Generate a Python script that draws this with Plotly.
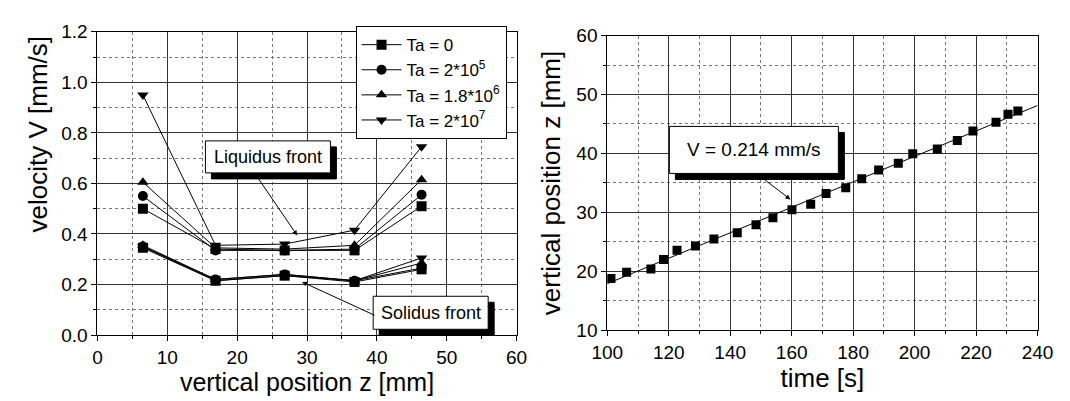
import numpy as np
import plotly.graph_objects as go

# ---------------- data: left panel ----------------
z_pos = [6.5, 16.9, 26.8, 36.8, 46.4]
ta_labels = ["Ta = 0", "Ta = 2*10<sup>5</sup>", "Ta = 1.8*10<sup>6</sup>", "Ta = 2*10<sup>7</sup>"]
ta_symbols = ["square", "circle", "triangle-up", "triangle-down"]

liq_ta0 = [0.50, 0.340, 0.335, 0.335, 0.51]
liq_ta2e5 = [0.55, 0.335, 0.335, 0.340, 0.555]
liq_ta18e6 = [0.605, 0.345, 0.340, 0.355, 0.615]
liq_ta2e7 = [0.95, 0.355, 0.360, 0.415, 0.745]

sol_ta0 = [0.345, 0.215, 0.235, 0.210, 0.260]
sol_ta2e5 = [0.350, 0.220, 0.240, 0.215, 0.265]
sol_ta18e6 = [0.355, 0.220, 0.240, 0.215, 0.285]
sol_ta2e7 = [0.350, 0.215, 0.235, 0.215, 0.305]

liquidus = [liq_ta0, liq_ta2e5, liq_ta18e6, liq_ta2e7]
solidus = [sol_ta0, sol_ta2e5, sol_ta18e6, sol_ta2e7]

# ---------------- data: right panel ----------------
time_s = [101.2, 106.3, 114.2, 118.3, 122.7, 128.7, 134.7, 142.3, 148.4, 153.9,
          160.1, 166.2, 171.2, 177.6, 182.8, 188.3, 194.7, 199.4, 207.4, 213.9,
          219.0, 226.5, 230.4, 233.6]
zpos_mm = [18.8, 19.85, 20.4, 22.0, 23.6, 24.3, 25.5, 26.55, 27.9, 29.1,
           30.45, 31.4, 33.2, 34.2, 35.7, 37.2, 38.35, 39.95, 40.75, 42.2,
           43.8, 45.3, 46.65, 47.2]
fit_t = [100, 240]

FONT = "Liberation Sans, Arial, Helvetica, sans-serif"
W, H = 1070, 401

fig = go.Figure()

for i in range(4):
    fig.add_trace(go.Scatter(
        x=z_pos, y=liquidus[i], mode="lines+markers", name=ta_labels[i],
        legendgroup=str(i), line=dict(color="black", width=1),
        marker=dict(symbol=ta_symbols[i], size=10, color="black"),
        xaxis="x", yaxis="y"))
    fig.add_trace(go.Scatter(
        x=z_pos, y=solidus[i], mode="lines+markers", name=ta_labels[i],
        legendgroup=str(i), showlegend=False, line=dict(color="black", width=1),
        marker=dict(symbol=ta_symbols[i], size=10, color="black"),
        xaxis="x", yaxis="y"))

slope, intercept = np.polyfit(time_s, zpos_mm, 1)
fit_z = [slope * t + intercept for t in fit_t]
fig.add_trace(go.Scatter(x=fit_t, y=fit_z, mode="lines", showlegend=False,
                         line=dict(color="black", width=1), xaxis="x2", yaxis="y2"))
fig.add_trace(go.Scatter(x=time_s, y=zpos_mm, mode="markers", showlegend=False,
                         marker=dict(symbol="square", size=9, color="black"),
                         xaxis="x2", yaxis="y2"))


def axis(rng, dtick, mdtick, domain, anchor, title, fmt=None, standoff=8, tsize=25):
    d = dict(range=rng, dtick=dtick, domain=domain, anchor=anchor,
             showline=True, linecolor="black", linewidth=1, mirror=True,
             ticks="outside", ticklen=5, tickcolor="black", tickwidth=1,
             showgrid=True, gridcolor="#333", gridwidth=1, zeroline=False,
             tickfont=dict(family=FONT, size=19, color="black"),
             title=dict(text=title, font=dict(family=FONT, size=tsize, color="black"),
                        standoff=standoff),
             minor=dict(dtick=mdtick, showgrid=True, gridcolor="#777", griddash="dot",
                        gridwidth=1, ticks="outside", ticklen=3, tickcolor="black"))
    if fmt:
        d["tickformat"] = fmt
    return d


fig.update_layout(
    width=W, height=H, margin=dict(l=0, r=0, t=0, b=0),
    paper_bgcolor="white", plot_bgcolor="white",
    font=dict(family=FONT, color="black"),
    xaxis=axis([0, 60], 10, 5, [84 / W, 516 / W], "y", "vertical position z [mm]", standoff=2),
    yaxis=axis([0, 1.2], 0.2, 0.1, [1 - 343 / H, 1 - 23 / H], "x", "", fmt=".1f"),
    xaxis2=axis([100, 240], 20, 10, [609.5 / W, 1053 / W], "y2", "time [s]", standoff=2, tsize=26),
    yaxis2=axis([10, 60], 10, 5, [1 - 338 / H, 1 - 27 / H], "x2", "vertical position z [mm]",
                standoff=8, tsize=26),
    legend=dict(x=350 / W, y=1 - 17 / H, xanchor="left", yanchor="top",
                bgcolor="white", bordercolor="black", borderwidth=1,
                font=dict(family=FONT, size=17, color="black"),
                tracegroupgap=0, itemwidth=40),
)


def boxed(cx, cy, text, xref, yref, w, h, size):
    shp = []
    common = dict(type="rect", xref=xref, yref=yref, xsizemode="pixel", ysizemode="pixel",
                  xanchor=cx, yanchor=cy, layer="above")
    shp.append(dict(common, x0=-w / 2 + 6, x1=w / 2 + 6, y0=-h / 2 - 6, y1=h / 2 - 6,
                    fillcolor="black", line=dict(color="black", width=1)))
    shp.append(dict(common, x0=-w / 2, x1=w / 2, y0=-h / 2, y1=h / 2,
                    fillcolor="white", line=dict(color="black", width=1)))
    txt = dict(x=cx, y=cy, xref=xref, yref=yref, text=text, showarrow=False,
               font=dict(family=FONT, size=size, color="black"))
    return shp, txt


def arrow(x, y, ax, ay, xref, yref):
    return dict(x=x, y=y, ax=ax, ay=ay, xref=xref, yref=yref, text="",
                showarrow=True, arrowhead=2, arrowsize=1, arrowwidth=1,
                arrowcolor="black")


shapes, ann = [], []
for spec in [(24.4, 0.705, "Liquidus front", "x", "y", 125, 32, 18),
             (47.7, 0.0881, "Solidus front", "x", "y", 115, 33, 18),
             (147.7, 40.6, "V = 0.214 mm/s", "x2", "y2", 169, 47, 19)]:
    s, t = boxed(*spec)
    shapes += s
    ann.append(t)

ann.append(arrow(28.6, 0.394, -41, -60, "x", "y"))
ann.append(arrow(29.3, 0.21, 74, 34, "x", "y"))
ann.append(arrow(159.6, 32.2, -30, -23, "x2", "y2"))
# left y-axis title (placed above centre as in the original)
ann.append(dict(x=23 / W, y=1 - 131 / H, xref="paper", yref="paper", text="velocity V [mm/s]",
                textangle=-90, showarrow=False, xanchor="center", yanchor="middle",
                font=dict(family=FONT, size=26, color="black")))
fig.update_layout(shapes=shapes, annotations=ann)

fig.write_html("out.html")
